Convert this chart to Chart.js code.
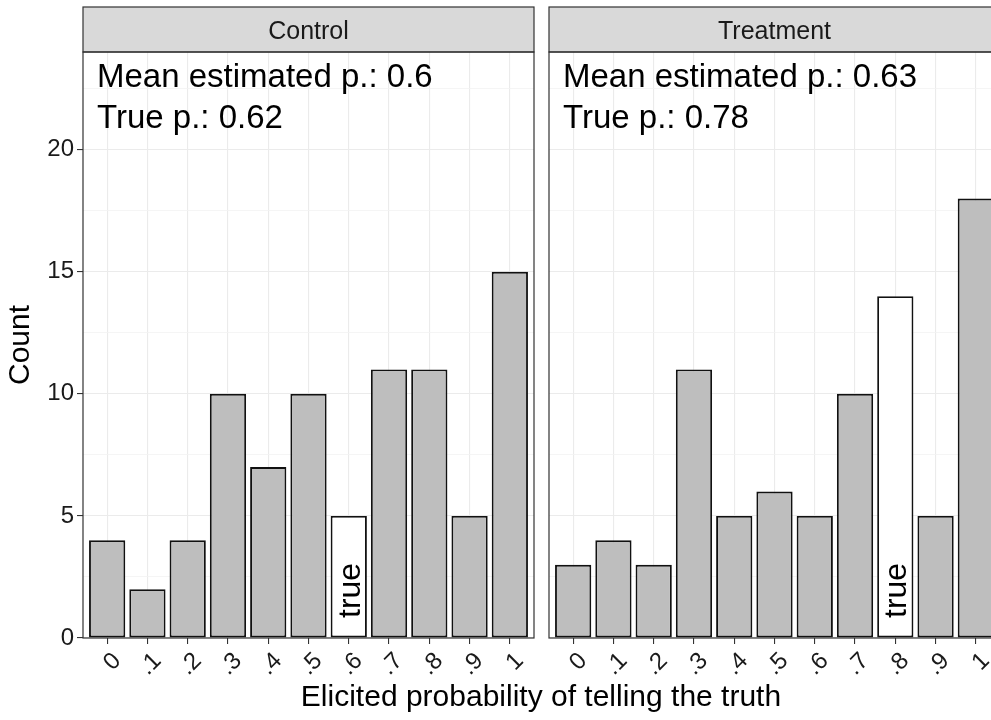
<!DOCTYPE html>
<html>
<head>
<meta charset="utf-8">
<script src="https://cdn.jsdelivr.net/npm/chart.js@4"></script>
<style>
  html, body { margin: 0; padding: 0; background: #ffffff; overflow: hidden; width: 991px; height: 720px; }
  #wrap { position: relative; width: 991px; height: 720px; overflow: hidden; }
  canvas { position: absolute; top: 0; }
  #xtitle {
    position: absolute; left: 0; width: 1082px; top: 681px; text-align: center;
    font-family: "Liberation Sans", Arial, sans-serif; font-size: 30px; line-height: 30px; color: #000;
    white-space: nowrap;
  }
</style>
</head>
<body>
<div id="wrap">
  <canvas id="cLeft" width="545" height="720" style="left:0px"></canvas>
  <canvas id="cRight" width="472" height="720" style="left:539px"></canvas>
  <div id="xtitle">Elicited probability of telling the truth</div>
</div>
<script>
// ---- data ----
const probs = [0, 0.1, 0.2, 0.3, 0.4, 0.5, 0.6, 0.7, 0.8, 0.9, 1];
const tickLabels = ['0', '.1', '.2', '.3', '.4', '.5', '.6', '.7', '.8', '.9', '1'];
const controlCounts = [4, 2, 4, 10, 7, 10, 5, 11, 11, 5, 15];
const treatmentCounts = [3, 4, 3, 11, 5, 6, 5, 10, 14, 5, 18];
const panelNames = ['Control', 'Treatment'];
const trueCategory = [0.6, 0.8];
const meanEstimated = ['0.6', '0.63'];
const trueP = ['0.62', '0.78'];
const yTicks = [0, 5, 10, 15, 20];
const yMax = 24;

const FONT = '"Liberation Sans", Arial, sans-serif';
Chart.defaults.font.family = FONT;

function yTickList() {
  const out = [];
  yTicks.forEach(v => { out.push(v); if (v + 2.5 < yMax) out.push(v + 2.5); });
  return out;
}

function facetPlugin(name, mean, tp, trueCat) {
  return {
    id: 'facet_' + name,
    afterDraw(chart) {
      const { ctx, chartArea: a } = chart;
      const w = a.right - a.left, h = a.bottom - a.top;
      ctx.save();
      // strip
      ctx.fillStyle = '#D9D9D9';
      ctx.fillRect(a.left, 7, w, a.top - 7);
      ctx.strokeStyle = '#333333';
      ctx.lineWidth = 1.2;
      ctx.strokeRect(a.left, 7, w, a.top - 7);
      ctx.fillStyle = '#1A1A1A';
      ctx.font = '25px ' + FONT;
      ctx.textAlign = 'center';
      ctx.textBaseline = 'alphabetic';
      ctx.fillText(name, (a.left + a.right) / 2, a.top - 13);
      // panel border
      ctx.strokeRect(a.left, a.top, w, h);
      // annotations
      ctx.fillStyle = '#000000';
      ctx.font = '33px ' + FONT;
      ctx.textAlign = 'left';
      ctx.fillText('Mean estimated p.: ' + mean, a.left + 14, a.top + 35);
      ctx.fillText('True p.: ' + tp, a.left + 14, a.top + 76);
      // "true" label inside white bar
      const x = chart.scales.x.getPixelForValue(trueCat);
      ctx.translate(x + 2, a.bottom - 20);
      ctx.rotate(-Math.PI / 2);
      ctx.font = '32px ' + FONT;
      ctx.textAlign = 'left';
      ctx.textBaseline = 'middle';
      ctx.fillText('true', 0, 0);
      ctx.restore();
    }
  };
}

function makeChart(canvasId, counts, idx, showY) {
  const trueCat = trueCategory[idx];
  const majorTick = v => yTicks.includes(v);
  return new Chart(document.getElementById(canvasId), {
    type: 'bar',
    data: {
      datasets: [{
        data: probs.map((p, i) => ({ x: p, y: counts[i] })),
        backgroundColor: probs.map(p => p === trueCat ? '#FFFFFF' : '#BEBEBE'),
        borderColor: '#111111',
        borderWidth: 1.9,
        borderSkipped: false,
        barPercentage: 0.9,
        categoryPercentage: 1.0
      }]
    },
    options: {
      responsive: false,
      animation: false,
      events: [],
      layout: { padding: { top: 52, right: 11, left: showY ? 0 : 10, bottom: 0 } },
      plugins: { legend: { display: false }, tooltip: { enabled: false }, title: { display: false } },
      scales: {
        x: {
          type: 'linear',
          min: -0.06,
          max: 1.06,
          offset: false,
          afterBuildTicks: ax => { ax.ticks = probs.map(v => ({ value: v })); },
          afterFit: s => { s.height = 82; },
          border: { display: false },
          grid: { offset: false, color: '#EBEBEB', lineWidth: 1.1, tickColor: '#333333', tickLength: 6, drawTicks: true },
          ticks: {
            autoSkip: false,
            minRotation: 45,
            maxRotation: 45,
            labelOffset: 10,
            padding: 3,
            color: '#1A1A1A',
            font: { size: 24 },
            callback: (v, i) => tickLabels[i]
          }
        },
        y: {
          min: 0,
          max: yMax,
          afterBuildTicks: ax => { ax.ticks = yTickList().map(v => ({ value: v })); },
          afterFit: s => { s.width = showY ? 83 : 0; },
          border: { display: false },
          grid: {
            color: c => majorTick(c.tick.value) ? '#EBEBEB' : '#F2F2F2',
            lineWidth: c => majorTick(c.tick.value) ? 1.1 : 0.8,
            tickColor: c => (showY && majorTick(c.tick.value)) ? '#333333' : 'rgba(0,0,0,0)',
            tickLength: 6,
            drawTicks: showY
          },
          ticks: {
            display: showY,
            autoSkip: false,
            padding: 3,
            color: '#1A1A1A',
            font: { size: 24 },
            callback: v => majorTick(v) ? String(v) : ''
          },
          title: {
            display: showY,
            text: 'Count',
            color: '#000000',
            font: { size: 30 },
            padding: { top: 3, bottom: 0 }
          }
        }
      }
    },
    plugins: [facetPlugin(panelNames[idx], meanEstimated[idx], trueP[idx], trueCat)]
  });
}

makeChart('cLeft', controlCounts, 0, true);
makeChart('cRight', treatmentCounts, 1, false);
</script>
</body>
</html>
